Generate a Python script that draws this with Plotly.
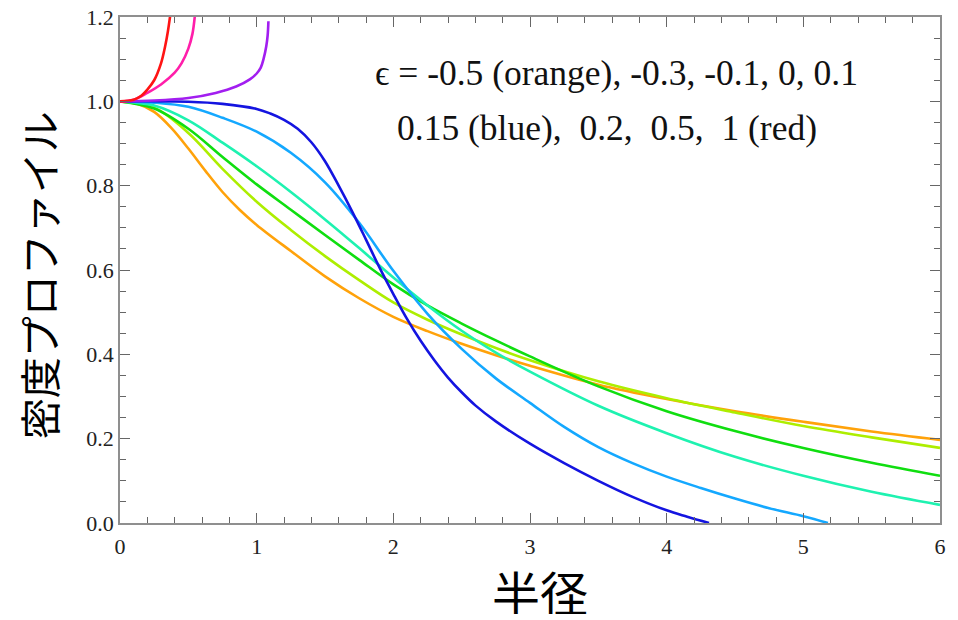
import plotly.graph_objects as go

# ---- data ----
eps_labels = ["-0.5", "-0.3", "-0.1", "0", "0.1", "0.15", "0.2", "0.5", "1"]
colors = ["#FFA20A", "#ADEE00", "#10DE10", "#1EF2B0", "#14A8FF", "#1414E0", "#A21EF0", "#FF1EAA", "#FF1414"]

x_orange = [0, 0.125, 0.25, 0.375, 0.5, 0.625, 0.75, 0.875, 1.0, 1.25, 1.5, 1.75, 2.0, 2.25, 2.5, 2.75, 3.0, 3.5, 4.0, 4.5, 5.0, 5.5, 6.0]
y_orange = [1.0, 0.994, 0.975, 0.937, 0.888, 0.835, 0.785, 0.743, 0.707, 0.645, 0.585, 0.533, 0.489, 0.455, 0.425, 0.398, 0.373, 0.328, 0.294, 0.265, 0.240, 0.217, 0.197]

x_yg = [0, 0.25, 0.5, 0.75, 1.0, 1.25, 1.5, 1.75, 2.0, 2.25, 2.5, 2.75, 3.0, 3.5, 4.0, 4.5, 5.0, 5.5, 6.0]
y_yg = [1.0, 0.985, 0.925, 0.84, 0.762, 0.695, 0.633, 0.576, 0.523, 0.482, 0.447, 0.415, 0.386, 0.336, 0.296, 0.262, 0.230, 0.203, 0.178]

x_green = [0, 0.25, 0.5, 0.75, 1.0, 1.25, 1.5, 1.75, 2.0, 2.25, 2.5, 2.75, 3.0, 3.5, 4.0, 4.5, 5.0, 5.5, 6.0]
y_green = [1.0, 0.983, 0.935, 0.868, 0.803, 0.743, 0.683, 0.624, 0.566, 0.516, 0.473, 0.433, 0.395, 0.324, 0.265, 0.218, 0.178, 0.143, 0.112]

x_cyan = [0, 0.25, 0.5, 0.75, 1.0, 1.25, 1.5, 1.75, 2.0, 2.25, 2.5, 2.75, 3.0, 3.5, 4.0, 4.5, 5.0, 5.5, 6.0]
y_cyan = [1.0, 0.99, 0.955, 0.902, 0.846, 0.785, 0.72, 0.652, 0.582, 0.516, 0.456, 0.404, 0.359, 0.278, 0.213, 0.157, 0.112, 0.074, 0.043]

x_sky = [0, 0.25, 0.5, 0.75, 1.0, 1.25, 1.5, 1.75, 2.0, 2.25, 2.5, 2.75, 3.0, 3.25, 3.5, 3.75, 4.0, 4.25, 4.5, 4.75, 5.0, 5.18]
y_sky = [1.0, 0.997, 0.987, 0.961, 0.928, 0.878, 0.808, 0.712, 0.598, 0.496, 0.413, 0.343, 0.285, 0.228, 0.180, 0.142, 0.110, 0.083, 0.058, 0.035, 0.016, 0.0]

x_blue = [0, 0.5, 0.75, 1.0, 1.1, 1.2, 1.3, 1.4, 1.5, 1.6, 1.7, 1.8, 1.9, 2.0, 2.1, 2.2, 2.3, 2.4, 2.5, 2.6, 2.75, 3.0, 3.25, 3.5, 3.75, 4.0, 4.15, 4.31]
y_blue = [1.0, 0.999, 0.994, 0.982, 0.971, 0.956, 0.935, 0.903, 0.858, 0.80, 0.738, 0.672, 0.605, 0.543, 0.484, 0.432, 0.386, 0.345, 0.31, 0.279, 0.241, 0.188, 0.142, 0.100, 0.062, 0.030, 0.015, 0.0]

x_purple = [0, 0.25, 0.5, 0.7, 0.85, 0.95, 1.0, 1.03, 1.05, 1.07, 1.08, 1.086]
y_purple = [1.0, 1.002, 1.008, 1.02, 1.035, 1.052, 1.066, 1.08, 1.10, 1.13, 1.155, 1.19]

x_magenta = [0, 0.1, 0.2, 0.3, 0.4, 0.45, 0.5, 0.53, 0.55]
y_magenta = [1.0, 1.004, 1.02, 1.04, 1.068, 1.09, 1.125, 1.16, 1.21]

x_red = [0, 0.1, 0.15, 0.2, 0.25, 0.3, 0.33, 0.35, 0.37]
y_red = [1.0, 1.004, 1.012, 1.028, 1.05, 1.09, 1.13, 1.165, 1.21]

series_x = [x_orange, x_yg, x_green, x_cyan, x_sky, x_blue, x_purple, x_magenta, x_red]
series_y = [y_orange, y_yg, y_green, y_cyan, y_sky, y_blue, y_purple, y_magenta, y_red]

x_ticks = [0, 1, 2, 3, 4, 5, 6]
y_ticks = [0.0, 0.2, 0.4, 0.6, 0.8, 1.0, 1.2]

note_line1 = "ϵ = -0.5 (orange), -0.3, -0.1, 0, 0.1"
note_line2 = "0.15 (blue),\u00a0\u00a00.2,\u00a0\u00a00.5,\u00a0\u00a01 (red)"
x_title = "半径"
y_title = "密度プロファイル"

fig = go.Figure()
for xs, ys, c, lab in zip(series_x, series_y, colors, eps_labels):
    fig.add_trace(go.Scatter(x=xs, y=ys, mode="lines", name=lab,
                             line=dict(color=c, width=2.6, shape="spline", smoothing=1.0)))

serif = "Liberation Serif"
cjk = "Noto Sans CJK JP"
tick_font = dict(family=serif, size=22, color="#222")
axis_common = dict(showline=True, linecolor="#8f8f8f", linewidth=1.5, mirror="allticks",
                   ticks="inside", ticklen=10, tickwidth=1.2, tickcolor="#666",
                   showgrid=False, zeroline=False, automargin=False)
fig.update_xaxes(range=[0, 6], tickmode="array", tickvals=x_ticks, ticktext=[str(v) for v in x_ticks],
                 ticklabelstandoff=3, tickfont=tick_font,
                 minor=dict(dtick=0.2, ticks="inside", ticklen=6, tickcolor="#666", tickwidth=1),
                 **axis_common)
fig.update_yaxes(range=[0, 1.2], tickmode="array", tickvals=y_ticks, ticktext=[f"{v:.1f}" for v in y_ticks],
                 tickfont=tick_font,
                 minor=dict(dtick=0.05, ticks="inside", ticklen=6, tickcolor="#666", tickwidth=1),
                 **axis_common)

W, H = 820, 505.7
def px(xp, yp):
    return (xp - 120) / W, (522.7 - yp) / H

ax1, ay1 = px(616, 73)
fig.add_annotation(x=ax1, y=ay1, xref="paper", yref="paper",
                   text=note_line1, showarrow=False, xanchor="center", yanchor="middle",
                   font=dict(family=serif, size=35.5, color="#111"))
ax2, ay2 = px(607, 128)
fig.add_annotation(x=ax2, y=ay2, xref="paper", yref="paper",
                   text=note_line2, showarrow=False, xanchor="center", yanchor="middle",
                   font=dict(family=serif, size=35.5, color="#111"))
tx, ty = px(540, 591)
fig.add_annotation(x=tx, y=ty, xref="paper", yref="paper",
                   text=x_title, showarrow=False, xanchor="center", yanchor="middle",
                   height=46, valign="middle",
                   font=dict(family=cjk, size=48, color="#000"))
yx, yy = px(38, 275)
fig.add_annotation(x=yx, y=yy, xref="paper", yref="paper",
                   text=y_title, showarrow=False, xanchor="center", yanchor="middle", textangle=-90,
                   font=dict(family=cjk, size=41, color="#000"))

fig.update_layout(width=958, height=620, margin=dict(l=120, r=18, t=17, b=97, pad=0),
                  font=dict(family=serif, size=22, color="#222"),
                  paper_bgcolor="white", plot_bgcolor="white", showlegend=False)
fig.write_html("out.html")
